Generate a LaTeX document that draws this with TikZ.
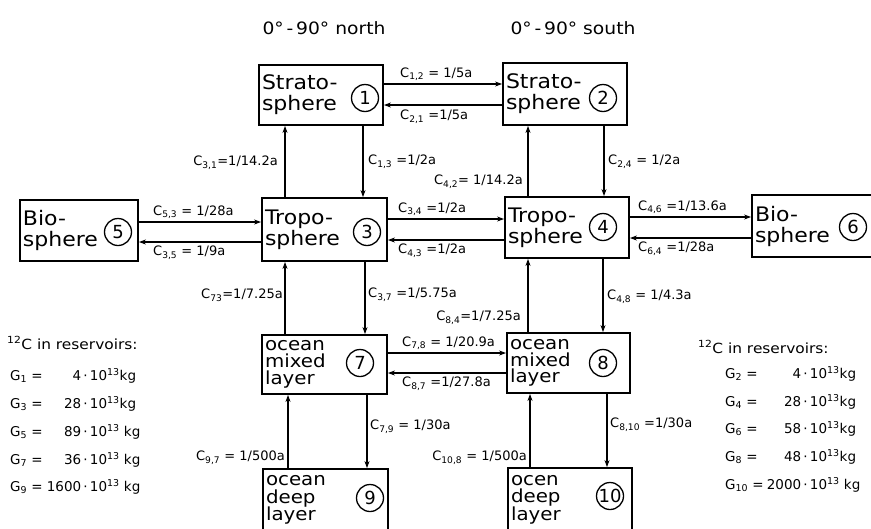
\documentclass[tikz,border=0pt]{standalone}
\usepackage{fontspec}
\setmainfont{DejaVu Sans}
\newfontfamily\widefont{DejaVu Sans}[FakeStretch=1.1]
\usetikzlibrary{arrows.meta}
\newcommand\sbs[1]{\textsubscript{#1}}
\newcommand\sps[1]{\textsuperscript{#1}}
\begin{document}
\begin{tikzpicture}[x=1pt,y=-1pt,
  box/.style={draw, line width=1.8pt, inner xsep=3pt, inner ysep=0pt, align=left, font=\widefont\fontsize{20}{21}\selectfont},
  obox/.style={box, font=\widefont\fontsize{18}{16.8}\selectfont},
  dbox/.style={box, font=\widefont\fontsize{18}{17.5}\selectfont},
  num/.style={draw, circle, line width=1.3pt, minimum size=27pt, inner sep=0pt, font=\fontsize{18}{18}\selectfont},
  arr/.style={line width=1.2pt, -{Stealth[length=7pt,width=5pt]}},
  marr/.style={arr, line width=1.7pt},
  tarr/.style={arr, line width=2.5pt},
  lab/.style={inner sep=0pt, font=\fontsize{13}{15}\selectfont},
  res/.style={inner sep=0pt, anchor=west, font=\fontsize{13.5}{16}\selectfont},
  head/.style={inner sep=0pt, font=\widefont\fontsize{17}{17}\selectfont}]
\useasboundingbox (0,0) rectangle (871,528);
\clip (0,0) rectangle (871,528);
% headers
\node[head] (hn) at (324,28) {0°\,-\,90° north};
\node[head] (hs) at (573,28) {0°\,-\,90° south};
% boxes
\node[box, minimum width=124pt, minimum height=60pt, text width=118pt] (b1) at (321,95) {Strato-\\sphere};
\node[box, minimum width=124pt, minimum height=62pt, text width=118pt] (b2) at (565,94) {Strato-\\sphere};
\node[box, minimum width=125pt, minimum height=63pt, text width=119pt] (b3) at (324.5,229.5) {Tropo-\\sphere};
\node[box, minimum width=124pt, minimum height=61pt, text width=118pt] (b4) at (567,227.5) {Tropo-\\sphere};
\node[box, minimum width=118pt, minimum height=61pt, text width=112pt] (b5) at (79,230.5) {Bio-\\sphere};
\node[box, minimum width=124pt, minimum height=62pt, text width=118pt] (b6) at (814,226) {Bio-\\sphere};
\node[obox, minimum width=125pt, minimum height=59pt, text width=119pt] (b7) at (324.5,364.5) {ocean\\mixed\\layer};
\node[obox, minimum width=123pt, minimum height=60pt, text width=117pt] (b8) at (568.5,363) {ocean\\mixed\\layer};
\node[dbox, minimum width=125pt, minimum height=62pt, text width=119pt] (b9) at (325.5,500) {ocean\\deep\\layer};
\node[dbox, minimum width=124pt, minimum height=63pt, text width=118pt] (b10) at (570,499.5) {ocen\\deep\\layer};
% circled numbers
\node[num] (c1) at (365,98) {1};
\node[num] (c2) at (603,98) {2};
\node[num] (c3) at (367,232) {3};
\node[num] (c4) at (603,227) {4};
\node[num] (c5) at (118,232) {5};
\node[num] (c6) at (853,227) {6};
\node[num] (c7) at (360,363) {7};
\node[num] (c8) at (603,363) {8};
\node[num] (c9) at (370,498) {9};
\node[num] (c10) at (610,496) {10};
% horizontal connectors
\draw[arr] (b1.east |- 0,84) -- (b2.west |- 0,84);
\draw[arr] (b2.west |- 0,105) -- (b1.east |- 0,105);
\draw[arr] (b5.east |- 0,222) -- (b3.west |- 0,222);
\draw[arr] (b3.west |- 0,242) -- (b5.east |- 0,242);
\draw[arr] (b3.east |- 0,219) -- (b4.west |- 0,219);
\draw[arr] (b4.west |- 0,240) -- (b3.east |- 0,240);
\draw[arr] (b4.east |- 0,217) -- (b6.west |- 0,217);
\draw[arr] (b6.west |- 0,238) -- (b4.east |- 0,238);
\draw[arr] (b7.east |- 0,353) -- (b8.west |- 0,353);
\draw[arr] (b8.west |- 0,373) -- (b7.east |- 0,373);
% vertical connectors
\draw[tarr] (b3.north -| 285,0) -- (b1.south -| 285,0);
\draw[arr] (b1.south -| 363,0) -- (b3.north -| 363,0);
\draw[marr] (b4.north -| 528,0) -- (b2.south -| 528,0);
\draw[arr] (b2.south -| 604,0) -- (b4.north -| 604,0);
\draw[tarr] (b7.north -| 285,0) -- (b3.south -| 285,0);
\draw[arr] (b3.south -| 365,0) -- (b7.north -| 365,0);
\draw[marr] (b8.north -| 528,0) -- (b4.south -| 528,0);
\draw[arr] (b4.south -| 603,0) -- (b8.north -| 603,0);
\draw[marr] (b9.north -| 288,0) -- (b7.south -| 288,0);
\draw[arr] (b7.south -| 367,0) -- (b9.north -| 367,0);
\draw[marr] (b10.north -| 530,0) -- (b8.south -| 530,0);
\draw[arr] (b8.south -| 607,0) -- (b10.north -| 607,0);
% connector labels
\node[lab, anchor=south west] (l12) at (400,81) {C\sbs{1,2} = 1/5a};
\node[lab, anchor=north west] (l21) at (400,110) {C\sbs{2,1} =1/5a};
\node[lab, anchor=east] (l31) at (278,163) {C\sbs{3,1}=1/14.2a};
\node[lab, anchor=west] (l13) at (368,162) {C\sbs{1,3} =1/2a};
\node[lab, anchor=east] (l42) at (523,182) {C\sbs{4,2}= 1/14.2a};
\node[lab, anchor=west] (l24) at (608,162) {C\sbs{2,4} = 1/2a};
\node[lab, anchor=south west] (l53) at (153,219) {C\sbs{5,3} = 1/28a};
\node[lab, anchor=north west] (l35) at (153,246) {C\sbs{3,5} = 1/9a};
\node[lab, anchor=south west] (l34) at (398,216) {C\sbs{3,4} =1/2a};
\node[lab, anchor=north west] (l43) at (398,244) {C\sbs{4,3} =1/2a};
\node[lab, anchor=south west] (l46) at (638,214) {C\sbs{4,6} =1/13.6a};
\node[lab, anchor=north west] (l64) at (638,242) {C\sbs{6,4} =1/28a};
\node[lab, anchor=east] (l73) at (283,295) {C\sbs{73}=1/7.25a};
\node[lab, anchor=west] (l37) at (368,295) {C\sbs{3,7} =1/5.75a};
\node[lab, anchor=east] (l84) at (521,318) {C\sbs{8,4}=1/7.25a};
\node[lab, anchor=west] (l48) at (607,297) {C\sbs{4,8} = 1/4.3a};
\node[lab, anchor=south west] (l78) at (402,350) {C\sbs{7,8} = 1/20.9a};
\node[lab, anchor=north west] (l87) at (402,377) {C\sbs{8,7} =1/27.8a};
\node[lab, anchor=west] (l79) at (370,427) {C\sbs{7,9} = 1/30a};
\node[lab, anchor=east] (l97) at (285,458) {C\sbs{9,7} = 1/500a};
\node[lab, anchor=east] (l108) at (527,458) {C\sbs{10,8} = 1/500a};
\node[lab, anchor=west] (l810) at (610,425) {C\sbs{8,10} =1/30a};
% reservoirs left
\node[res, font=\widefont\fontsize{14}{16}\selectfont] (tl) at (7,343) {\sps{12}C in reservoirs:};
\node[res] (g1) at (10,376) {\makebox[34pt][l]{G\sbs{1} =}\makebox[37pt][r]{4}\,·\,10\sps{13}kg};
\node[res] (g3) at (10,404) {\makebox[34pt][l]{G\sbs{3} =}\makebox[37pt][r]{28}\,·\,10\sps{13}kg};
\node[res] (g5) at (10,432) {\makebox[34pt][l]{G\sbs{5} =}\makebox[37pt][r]{89}\,·\,10\sps{13} kg};
\node[res] (g7) at (10,460) {\makebox[34pt][l]{G\sbs{7} =}\makebox[37pt][r]{36}\,·\,10\sps{13} kg};
\node[res] (g9) at (10,487) {\makebox[34pt][l]{G\sbs{9} =}\makebox[37pt][r]{1600}\,·\,10\sps{13} kg};
% reservoirs right
\node[res, font=\widefont\fontsize{14}{16}\selectfont] (tr) at (698,347) {\sps{12}C in reservoirs:};
\node[res] (g2) at (725,374) {\makebox[39pt][l]{G\sbs{2} =}\makebox[37pt][r]{4}\,·\,10\sps{13}kg};
\node[res] (g4) at (725,402) {\makebox[39pt][l]{G\sbs{4} =}\makebox[37pt][r]{28}\,·\,10\sps{13}kg};
\node[res] (g6) at (725,429) {\makebox[39pt][l]{G\sbs{6} =}\makebox[37pt][r]{58}\,·\,10\sps{13}kg};
\node[res] (g8) at (725,457) {\makebox[39pt][l]{G\sbs{8} =}\makebox[37pt][r]{48}\,·\,10\sps{13}kg};
\node[res] (g10) at (725,485) {\makebox[39pt][l]{G\sbs{10} =}\makebox[37pt][r]{2000}\,·\,10\sps{13} kg};
\end{tikzpicture}
\end{document}
